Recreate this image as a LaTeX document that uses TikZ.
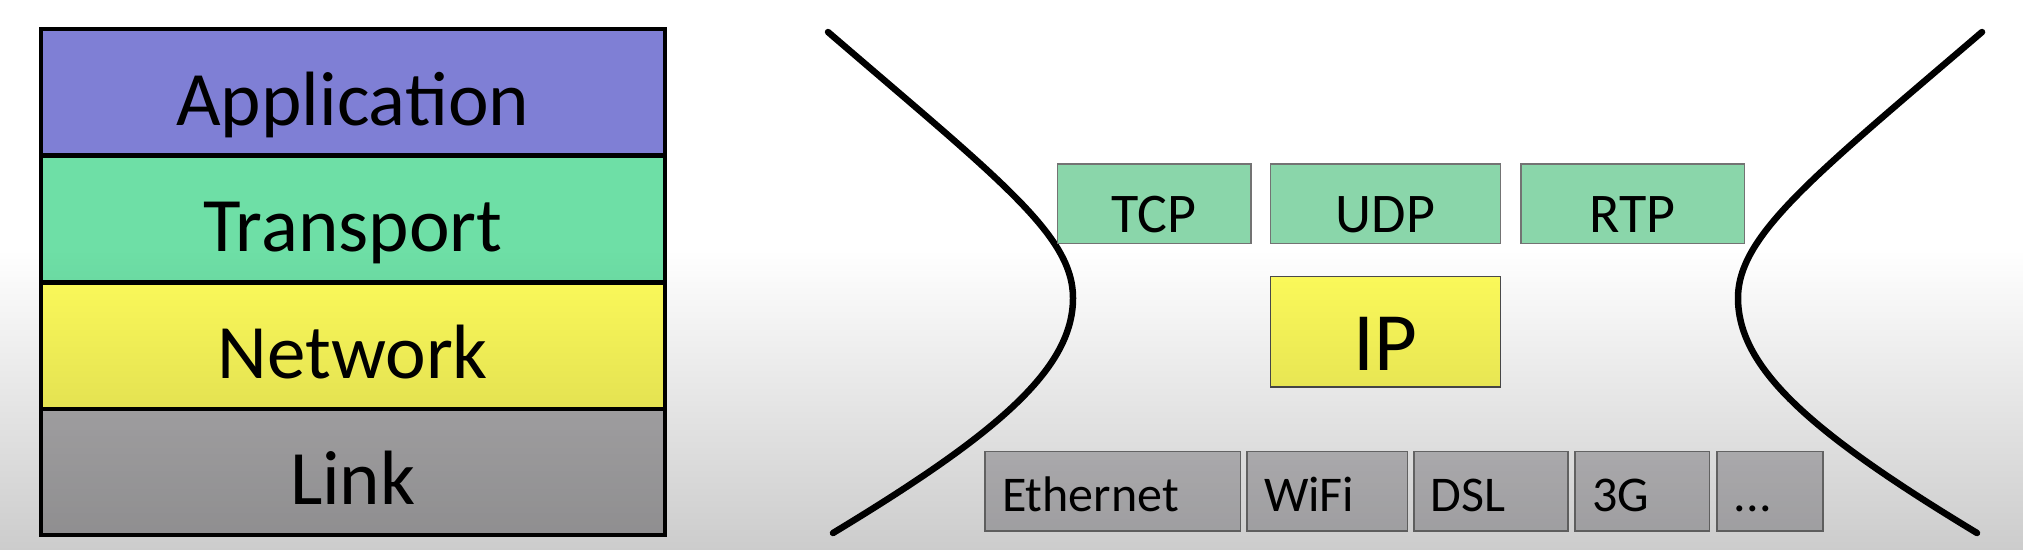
\documentclass[tikz,border=0pt]{standalone}
\usepackage{fontspec}
\setmainfont{Carlito}
\usepackage{tikz}
\usetikzlibrary{fadings}
\definecolor{appblue}{RGB}{127,127,213}
\definecolor{trgreen}{RGB}{110,223,166}
\definecolor{netyellow}{RGB}{255,253,92}
\definecolor{linkgray}{RGB}{177,176,178}
\definecolor{protogreen}{RGB}{138,214,170}
\definecolor{phygray}{RGB}{196,195,198}
\tikzfading[name=dimdown, top color=transparent!100, bottom color=transparent!80]
\tikzset{
layer/.style = {draw=black, line width=4pt, minimum width=624.5pt,
                minimum height=126pt, inner sep=0pt, outer sep=0pt,
                text height=66pt, text depth=0pt,
                font=\fontsize{77}{80}\selectfont},
proto/.style = {draw=black!55, line width=1.5pt, minimum height=#1,
                inner sep=0pt, outer sep=0pt, text depth=0pt},
proto/.default = 79.6pt,
phy/.style = {proto, fill=phygray, inner xsep=17pt, align=left,
              text height=41pt, font=\fontsize{50}{52}\selectfont},
hull/.style = {line width=6.5pt, line cap=round}
}
\newcommand{\band}[4]{\node[layer, fill=#3] (#1) at (352.75,#2) {#4};}
\newcommand{\proto}[4]{\node[proto, fill=protogreen, minimum width=#3,
  text height=57pt, font=\fontsize{56}{58}\selectfont] (#1) at (#2,203.6) {#4};}
\newcommand{\phybox}[4]{\node[phy, text width=#3] (#1) at (#2,491.2) {#4};}

\begin{document}
\begin{tikzpicture}[x=1pt, y=-1pt]
    \useasboundingbox (0,0) rectangle (2034,550);
    \fill[white] (0,0) rectangle (2034,550);

    % the four layers
    \band{app}{92.45}{appblue}{Application}
    \band{trans}{218.9}{trgreen}{Transport}
    \band{net}{345.5}{netyellow}{Network}
    \band{link}{471.75}{linkgray}{Link}

    % hourglass
    \draw[hull] (828,32) .. controls (1000,180) and (1073,235) .. (1073,298)
                .. controls (1073,370) and (995,435) .. (833,533);
    \draw[hull] (1982,32) .. controls (1815,175) and (1738,235) .. (1738,298)
                .. controls (1738,370) and (1815,435) .. (1977,533);

    \proto{tcp}{1154.15}{193.7pt}{TCP}
    \proto{udp}{1385.5}{229.8pt}{UDP}
    \proto{rtp}{1632.65}{223.5pt}{RTP}

    \node[proto=110.5pt, fill=netyellow, draw=black!70, minimum width=229.8pt,
          text height=77pt, font=\fontsize{83}{86}\selectfont] (ip) at (1385.5,331.6) {IP};

    \phybox{eth}{1112.85}{221.7pt}{Ethernet}
    \phybox{wifi}{1327.25}{126.5pt}{WiFi}
    \phybox{dsl}{1490.9}{120pt}{DSL}
    \phybox{3g}{1642.35}{100.7pt}{3G}
    \phybox{more}{1769.9}{72pt}{...}

    % darker towards the bottom
    \fill[black, path fading=dimdown] (0,250) rectangle (2034,550);
\end{tikzpicture}
\end{document}
